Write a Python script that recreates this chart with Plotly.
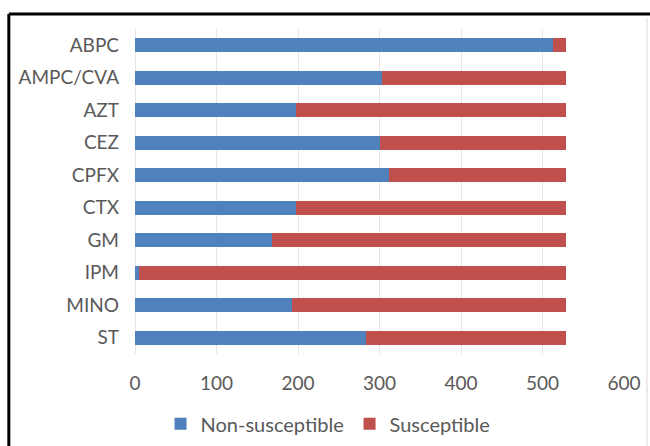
import plotly.graph_objects as go

# Antimicrobial agents (top to bottom) and isolate counts per category
agents = ["ABPC", "AMPC/CVA", "AZT", "CEZ", "CPFX", "CTX", "GM", "IPM", "MINO", "ST"]
non_susceptible = [513, 303, 198, 300, 312, 197, 168, 5, 193, 284]
susceptible = [16, 226, 331, 229, 217, 332, 361, 524, 336, 245]
x_ticks = [0, 100, 200, 300, 400, 500, 600]

BLUE = "#4F81BD"
RED = "#C0504D"
FONT = "Lato, Open Sans, sans-serif"
TEXT = "#595959"

fig = go.Figure()
fig.add_trace(go.Bar(
    y=agents, x=non_susceptible, name="Non-susceptible", orientation="h",
    marker=dict(color=BLUE, line=dict(width=0)),
))
fig.add_trace(go.Bar(
    y=agents, x=susceptible, name="Susceptible", orientation="h",
    marker=dict(color=RED, line=dict(width=0)),
))

fig.update_layout(
    width=650, height=446,
    barmode="stack", bargap=0.57,
    plot_bgcolor="white", paper_bgcolor="white",
    margin=dict(l=135, r=26, t=29, b=92, autoexpand=False),
    font=dict(family=FONT, size=19, color=TEXT),
    xaxis=dict(
        range=[0, 600], tickvals=x_ticks, ticktext=[str(v) for v in x_ticks],
        showgrid=True, gridcolor="#E6E6E6", gridwidth=1,
        zeroline=True, zerolinecolor="#E6E6E6", zerolinewidth=1,
        showline=False, ticks="", ticklabelstandoff=16,
        tickfont=dict(family=FONT, size=19, color=TEXT),
    ),
    yaxis=dict(
        categoryorder="array", categoryarray=agents, autorange="reversed",
        showgrid=False, zeroline=False, showline=False, ticks="",
        ticklabelstandoff=15,
        tickfont=dict(family=FONT, size=19, color=TEXT),
    ),
    legend=dict(
        orientation="h", xref="container", x=0.247, xanchor="left",
        yref="container", y=0.05, yanchor="middle",
        font=dict(family=FONT, size=20, color=TEXT),
        traceorder="normal", itemwidth=30,
        entrywidth=144, entrywidthmode="pixels",
    ),
    shapes=[
        # outer frame (black on top and left, light gray on right)
        dict(type="line", xref="paper", yref="paper",
             x0=-0.258, x1=1.06, y0=1.046, y1=1.046,
             line=dict(color="black", width=3)),
        dict(type="line", xref="paper", yref="paper",
             x0=-0.258, x1=-0.258, y0=1.046, y1=-0.30,
             line=dict(color="black", width=3)),
        dict(type="line", xref="paper", yref="paper",
             x0=1.047, x1=1.047, y0=1.035, y1=-0.30,
             line=dict(color="#D9D9D9", width=1)),
    ],
)

fig.write_html("out.html")
